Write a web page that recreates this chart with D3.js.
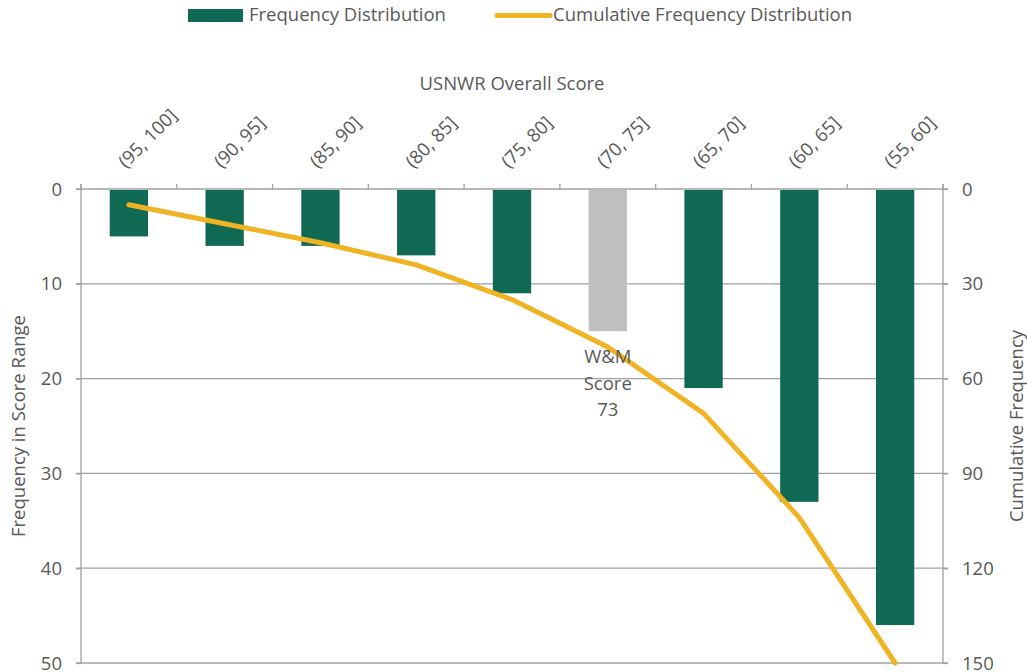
<!DOCTYPE html>
<html>
<head>
<meta charset="utf-8">
<script src="https://cdn.jsdelivr.net/npm/d3@7"></script>
<style>
  body { margin: 0; background: #fff; }
  svg text { font-family: "Open Sans", "Noto Sans", sans-serif; fill: #595959; }
</style>
</head>
<body>
<div id="chart"></div>
<script>
// data
let categories = ['(95, 100]', '(90, 95]', '(85, 90]', '(80, 85]', '(75, 80]', '(70, 75]', '(65, 70]', '(60, 65]', '(55, 60]']
let frequency = [5, 6, 6, 7, 11, 15, 21, 33, 46]
let cumulative = [5, 11, 17, 24, 35, 50, 71, 104, 150]
let leftTicks = [0, 10, 20, 30, 40, 50]
let rightTicks = [0, 30, 60, 90, 120, 150]
let highlight = '(70, 75]'
let noteLines = ['W&M', 'Score', '73']

let width = 1027
let height = 672
let plot = { left: 81, right: 943, top: 189, bottom: 663 }
let fontSize = 18.5
let green = '#0f6953'
let grey = '#bfbfbf'
let gold = '#f0b323'
let axisColor = '#a0a0a0'

let svg = d3.select('#chart').append('svg')
    .attr('width', width)
    .attr('height', height)

let x = d3.scaleBand()
    .domain(categories)
    .range([plot.left, plot.right])
let y = d3.scaleLinear()
    .domain([0, 50])
    .range([plot.top, plot.bottom])
let yR = d3.scaleLinear()
    .domain([0, 150])
    .range([plot.top, plot.bottom])
let bw = x.bandwidth() * 0.4

// gridlines (horizontal)
svg.append('g')
    .selectAll('line')
    .data(leftTicks)
    .join('line')
    .attr('x1', plot.left - 5)
    .attr('x2', plot.right + 5)
    .attr('y1', d => y(d))
    .attr('y2', d => y(d))
    .attr('stroke', axisColor)
    .attr('stroke-width', 1.3)

// left axis
let leftAxis = svg.append('g')
    .attr('transform', `translate(${plot.left},0)`)
    .call(d3.axisLeft(y).tickValues(leftTicks).tickSize(5).tickPadding(14))
leftAxis.select('.domain').attr('stroke', axisColor).attr('stroke-width', 1.3)
    .attr('d', `M0,${plot.top - 5}V${plot.bottom}`)
leftAxis.selectAll('.tick line').attr('stroke', axisColor).attr('stroke-width', 1.3)
leftAxis.selectAll('.tick text').attr('font-size', fontSize).attr('dy', '0.33em')
    .style('font-family', '"Open Sans", sans-serif').attr('fill', '#595959')

// right axis
let rightAxis = svg.append('g')
    .attr('transform', `translate(${plot.right},0)`)
    .call(d3.axisRight(yR).tickValues(rightTicks).tickSize(5).tickPadding(14))
rightAxis.select('.domain').attr('stroke', axisColor).attr('stroke-width', 1.3)
    .attr('d', `M0,${plot.top - 5}V${plot.bottom}`)
rightAxis.selectAll('.tick line').attr('stroke', axisColor).attr('stroke-width', 1.3)
rightAxis.selectAll('.tick text').attr('font-size', fontSize).attr('dy', '0.33em')
    .style('font-family', '"Open Sans", sans-serif').attr('fill', '#595959')

// top category ticks at band boundaries
let bounds = categories.map(c => x(c)).concat([plot.right])
svg.append('g')
    .selectAll('line')
    .data(bounds)
    .join('line')
    .attr('x1', d => d)
    .attr('x2', d => d)
    .attr('y1', plot.top - 5)
    .attr('y2', plot.top)
    .attr('stroke', axisColor)
    .attr('stroke-width', 1.3)

// category labels, rotated
svg.append('g')
    .selectAll('text')
    .data(categories)
    .join('text')
    .attr('transform', d => `translate(${x(d) + x.bandwidth() / 2 - 3},169) rotate(-45)`)
    .attr('font-size', fontSize)
    .text(d => d)

// bars
svg.append('g')
    .selectAll('rect')
    .data(categories)
    .join('rect')
    .attr('x', d => x(d) + (x.bandwidth() - bw) / 2)
    .attr('y', y(0) + 1)
    .attr('width', bw)
    .attr('height', (d, i) => y(frequency[i]) - y(0) - 1)
    .attr('fill', d => d === highlight ? grey : green)

// cumulative line
let line = d3.line()
    .x((d, i) => x(categories[i]) + x.bandwidth() / 2)
    .y(d => yR(d))
svg.append('path')
    .datum(cumulative)
    .attr('d', line)
    .attr('fill', 'none')
    .attr('stroke', gold)
    .attr('stroke-width', 5)
    .attr('stroke-linecap', 'round')
    .attr('stroke-linejoin', 'round')

// W&M annotation
svg.append('text')
    .attr('x', x(highlight) + x.bandwidth() / 2)
    .attr('y', 363)
    .attr('text-anchor', 'middle')
    .attr('font-size', fontSize)
    .selectAll('tspan')
    .data(noteLines)
    .join('tspan')
    .attr('x', x(highlight) + x.bandwidth() / 2)
    .attr('dy', (d, i) => i === 0 ? 0 : 26.5)
    .text(d => d)

// axis titles
svg.append('text')
    .attr('x', (plot.left + plot.right) / 2)
    .attr('y', 90)
    .attr('text-anchor', 'middle')
    .attr('font-size', fontSize)
    .text('USNWR Overall Score')
svg.append('text')
    .attr('transform', `translate(25,${(plot.top + plot.bottom) / 2}) rotate(-90)`)
    .attr('text-anchor', 'middle')
    .attr('font-size', fontSize)
    .text('Frequency in Score Range')
svg.append('text')
    .attr('transform', `translate(1023,${(plot.top + plot.bottom) / 2}) rotate(-90)`)
    .attr('text-anchor', 'middle')
    .attr('font-size', fontSize)
    .text('Cumulative Frequency')

// legend
let legend = svg.append('g')
legend.append('rect')
    .attr('x', 188).attr('y', 9)
    .attr('width', 55).attr('height', 13)
    .attr('fill', green)
legend.append('text')
    .attr('x', 249).attr('y', 21)
    .attr('font-size', fontSize)
    .text('Frequency Distribution')
legend.append('line')
    .attr('x1', 497).attr('x2', 550)
    .attr('y1', 15.5).attr('y2', 15.5)
    .attr('stroke', gold)
    .attr('stroke-width', 5)
    .attr('stroke-linecap', 'round')
legend.append('text')
    .attr('x', 553).attr('y', 21)
    .attr('font-size', fontSize)
    .text('Cumulative Frequency Distribution')
</script>
</body>
</html>
